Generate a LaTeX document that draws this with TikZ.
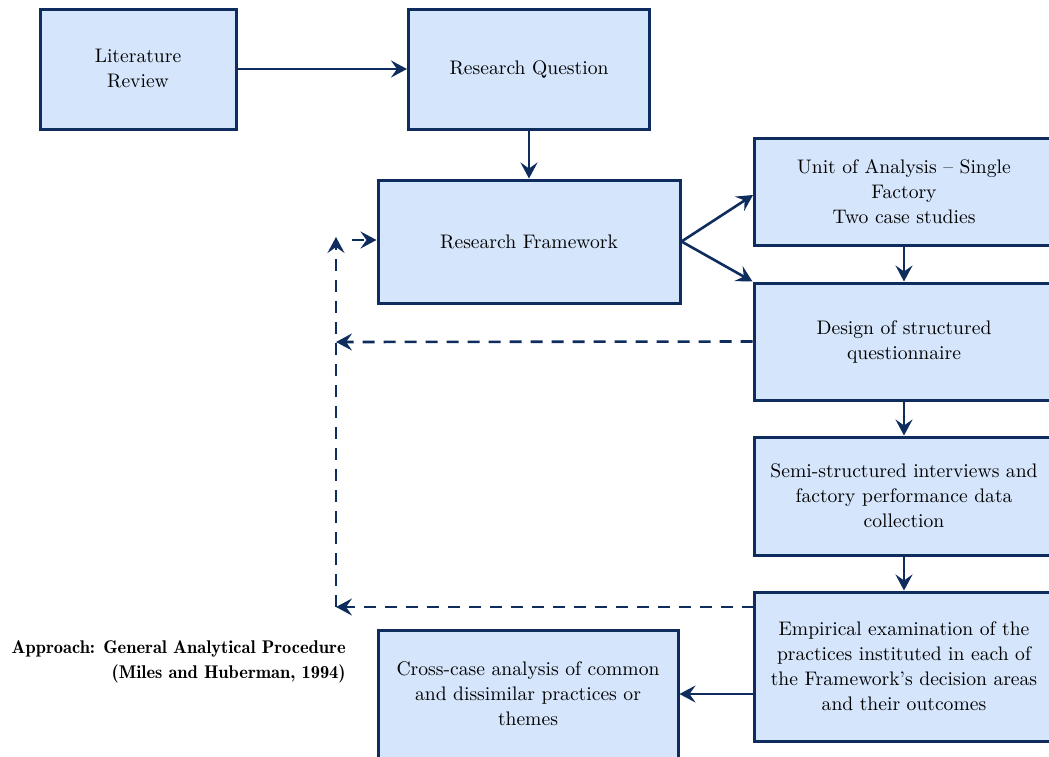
\documentclass[tikz,border=0pt]{standalone}
\usetikzlibrary{arrows.meta}
\definecolor{navy}{HTML}{0E2C5E}
\definecolor{boxfill}{HTML}{D5E5FB}
\tikzset{
  box/.style={draw=navy, fill=boxfill, line width=1.5pt, align=center, inner sep=0pt,
    font=\fontsize{9.8pt}{12.5pt}\selectfont, text=black},
  conn/.style={draw=navy, line width=1.3pt, -{Stealth[length=8pt,width=8.5pt,inset=3pt]}},
  dconn/.style={conn, dash pattern=on 6pt off 4.5pt},
  note/.style={align=right, inner sep=0pt, font=\fontsize{9.2pt}{12.5pt}\fontseries{b}\selectfont, text=black}
}
\begin{document}
\begin{tikzpicture}[x=0.5pt, y=-0.5pt]
\useasboundingbox (0,0) rectangle (1049,756);
\clip (0,0) rectangle (1049,756);
\node[box, minimum width=98pt, minimum height=60pt] (lr) at (138,69) {Literature\\Review};
\node[box, minimum width=120.5pt, minimum height=60pt] (rq) at (529,69) {Research Question};
\node[box, minimum width=151pt, minimum height=61.5pt] (rf) at (529,241.5) {Research Framework};
\node[box, minimum width=150pt, minimum height=53.5pt] (ua) at (904,191.5) {Unit of Analysis -- Single\\Factory\\Two case studies};
\node[box, minimum width=150pt, minimum height=58.5pt] (dq) at (904,341.5) {Design of structured\\questionnaire};
\node[box, minimum width=150pt, minimum height=59pt] (si) at (904,496) {Semi-structured interviews and\\factory performance data\\collection};
\node[box, minimum width=150pt, minimum height=74.5pt] (ee) at (904,666.5) {Empirical examination of the\\practices instituted in each of\\the Framework's decision areas\\and their outcomes};
\node[box, minimum width=150pt, minimum height=64pt] (cc) at (528,694) {Cross-case analysis of common\\and dissimilar practices or\\themes};
\node[note, anchor=east] (ap) at (346,662) {Approach: General Analytical Procedure\\(Miles and Huberman, 1994)};

\coordinate (uain) at (753,195);
\coordinate (eeout) at (754,607);
\coordinate (fbl) at (336,607);
\coordinate (fbm) at (336,342);
\coordinate (fbt) at (336,237);
\coordinate (fbs) at (352,240);

\draw[conn] (lr.east) -- (rq.west);
\draw[conn] (rq.south) -- (rf.north);
\draw[conn] (rf.east) -- (uain);
\draw[conn] (rf.east) -- (dq.north west);
\draw[conn] (ua.south) -- (dq.north);
\draw[conn] (dq.south) -- (si.north);
\draw[conn] (si.south) -- (ee.north);
\draw[conn] (cc.east -| ee.west) -- (cc.east);
\draw[dconn] (dq.west) -- (fbm);
\draw[dconn] (eeout) -- (fbl);
\draw[dconn] (fbl) -- (fbt);
\draw[dconn] (fbs) -- (rf.west |- fbs);
\end{tikzpicture}
\end{document}
